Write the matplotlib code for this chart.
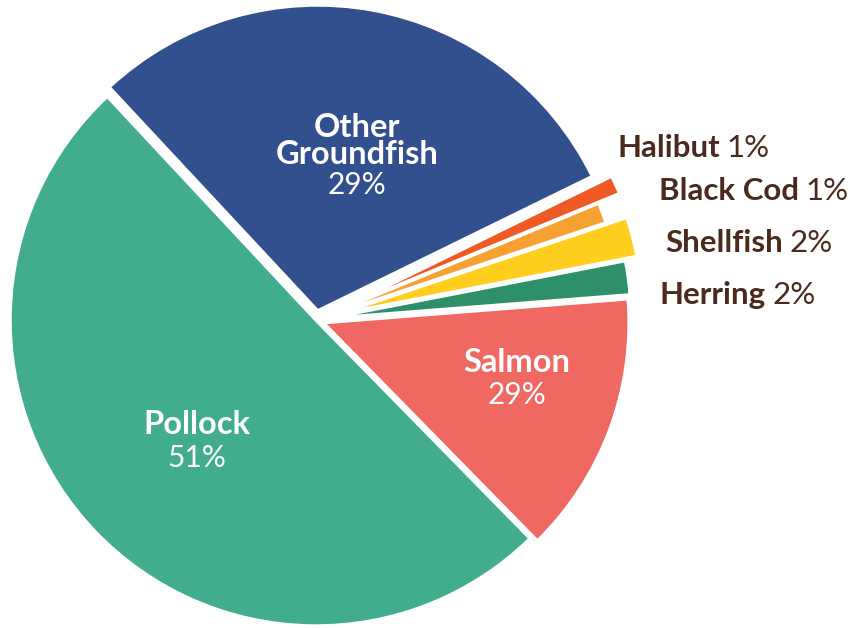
import matplotlib.pyplot as plt
import numpy as np

# slice sizes, labels as printed
names = ['Pollock', 'Salmon', 'Herring', 'Shellfish', 'Black Cod', 'Halibut', 'Other Groundfish']
shares = [50.4, 13.9, 1.8, 2.1, 1.1, 1.0, 29.7]
pct_labels = ['51%', '29%', '2%', '2%', '1%', '1%', '29%']
colors = ['#41ad8e', '#f06862', '#2e8f6b', '#ffce1f', '#f8a133', '#ef5a24', '#33508e']
explode = [0.0, 0.025, 0.03, 0.07, 0.0, 0.075, 0.03]  # fraction of radius

plt.rcParams['font.family'] = ['Lato', 'DejaVu Sans']
brown = '#4b2a1e'

fig = plt.figure(figsize=(8.52, 6.28), dpi=100)
ax = fig.add_axes([0, 0, 1, 1])

cx, cy, R = 316, -320, 306
# pie's explode is in data units, so scale by the radius
wedges, _ = ax.pie(shares, colors=colors, explode=[e * R for e in explode],
                   startangle=133, counterclock=True, center=(cx, cy), radius=R,
                   wedgeprops=dict(edgecolor='white', linewidth=2.5))
ax.set_xlim(0, 852)
ax.set_ylim(-628, 0)
ax.set_aspect('equal')
ax.axis('off')

# labels inside the big slices: (name, name centre, pct centre)
inside = {0: ('Pollock', (197, -425), (197, -458)),
          1: ('Salmon', (517, -363), (517, -395)),
          6: ('Other\nGroundfish', (357, -141), (357, -185))}
for i, (txt, p_name, p_pct) in inside.items():
    ax.text(*p_name, txt, ha='center', va='center', color='white',
            fontsize=23.5, fontweight='bold', linespacing=0.95)
    ax.text(*p_pct, pct_labels[i], ha='center', va='center', color='white', fontsize=21.5)

# labels beside the thin slices
outside = {5: (617, -148), 4: (659, -191), 3: (665, -243), 2: (659, -295)}
for i, (x, y) in outside.items():
    t = ax.text(x, y, names[i], ha='left', va='center', color=brown,
                fontsize=22.5, fontweight='bold')
    ax.annotate(pct_labels[i], xy=(1, 0), xycoords=t, xytext=(5, 0),
                textcoords='offset points', ha='left', va='bottom',
                color=brown, fontsize=22.5)

fig.savefig('out.png', dpi=100)
